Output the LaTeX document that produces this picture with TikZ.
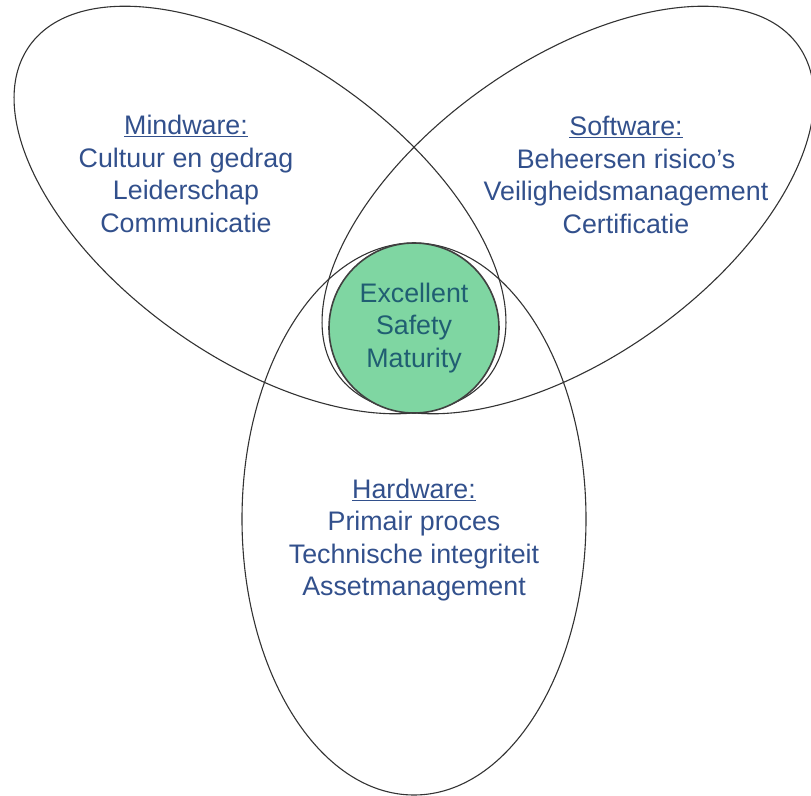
\documentclass[tikz,border=0pt]{standalone}
\usepackage{fontspec}
\setmainfont{Liberation Sans}
\definecolor{labelblue}{RGB}{50,80,140}
\definecolor{coreteal}{RGB}{32,94,114}
\definecolor{coregreen}{RGB}{127,214,162}
\begin{document}
\begin{tikzpicture}[x=1pt,y=-1pt,
    ring/.style={draw=black!80,line width=1.1pt},
    area/.style={text=labelblue,align=center,font=\fontsize{26.8}{32.5}\selectfont}]
    \useasboundingbox (0,0) rectangle (811,795);
    % the three areas
    \draw[ring,rotate around={-35.5:(260,210)}] (260,210) ellipse [x radius=283,y radius=148];
    \draw[ring,rotate around={35.5:(568,210)}] (568,210) ellipse [x radius=283,y radius=148];
    \draw[ring] (414,519) ellipse [x radius=172,y radius=276];
    % the core
    \node[circle,draw=black!75,line width=1.6pt,fill=coregreen,minimum size=170pt,
        text=coreteal,align=center,font=\fontsize{26.8}{32.5}\selectfont] (core) at (414,328)
        {Excellent\\Safety\\Maturity};
    \node[area] (mind) at (186,174) {\underline{Mindware:}\\Cultuur en gedrag\\Leiderschap\\Communicatie};
    \node[area] (soft) at (626,175) {\underline{Software:}\\Beheersen risico's\\Veiligheidsmanagement\\Certificatie};
    \node[area] (hard) at (414,540) {\underline{Hardware:}\\Primair proces\\Technische integriteit\\Assetmanagement};
\end{tikzpicture}
\end{document}
